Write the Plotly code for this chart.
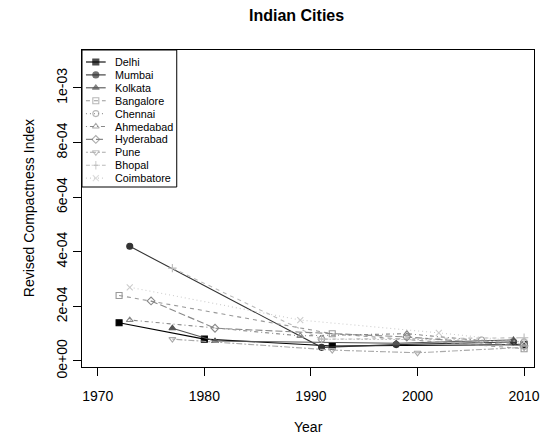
import plotly.graph_objects as go

cities = ["Delhi", "Mumbai", "Kolkata", "Bangalore", "Chennai",
          "Ahmedabad", "Hyderabad", "Pune", "Bhopal", "Coimbatore"]

years = {
    "Delhi":      [1972, 1980, 1992, 2010],
    "Mumbai":     [1973, 1991, 1998, 2009],
    "Kolkata":    [1977, 1981, 1998, 2009],
    "Bangalore":  [1972, 1992, 2010],
    "Chennai":    [1991, 2006, 2010],
    "Ahmedabad":  [1973, 1989, 1999, 2010],
    "Hyderabad":  [1975, 1981, 1999, 2010],
    "Pune":       [1977, 1992, 2000, 2010],
    "Bhopal":     [1977, 1991, 2010],
    "Coimbatore": [1973, 1989, 2002, 2010],
}
values = {
    "Delhi":      [1.40e-4, 0.80e-4, 0.55e-4, 0.60e-4],
    "Mumbai":     [4.20e-4, 0.50e-4, 0.60e-4, 0.70e-4],
    "Kolkata":    [1.20e-4, 0.73e-4, 0.65e-4, 0.77e-4],
    "Bangalore":  [2.40e-4, 1.00e-4, 0.45e-4],
    "Chennai":    [0.80e-4, 0.77e-4, 0.70e-4],
    "Ahmedabad":  [1.50e-4, 0.92e-4, 1.00e-4, 0.60e-4],
    "Hyderabad":  [2.20e-4, 1.20e-4, 0.88e-4, 0.55e-4],
    "Pune":       [0.80e-4, 0.40e-4, 0.30e-4, 0.50e-4],
    "Bhopal":     [3.40e-4, 0.80e-4, 0.85e-4],
    "Coimbatore": [2.70e-4, 1.50e-4, 1.03e-4, 0.70e-4],
}

x_ticks = [1970, 1980, 1990, 2000, 2010]
y_ticks = [0, 2e-4, 4e-4, 6e-4, 8e-4, 1e-3]
y_tick_labels = ["0e+00", "2e-04", "4e-04", "6e-04", "8e-04", "1e-03"]

colors = ["#000000", "#333333", "#555555", "#999999", "#999999",
          "#888888", "#888888", "#aaaaaa", "#bbbbbb", "#cccccc"]
symbols = ["square", "circle", "triangle-up", "square-open", "circle-open",
           "triangle-up-open", "diamond-open", "triangle-down-open",
           "cross-thin-open", "x-thin-open"]
dashes = ["solid", "solid", "solid", "4px,4px", "1px,3px", "1px,3px,4px,3px",
          "7px,3px", "2px,2px,6px,2px", "4px,4px", "1px,3px"]

FONT = "Liberation Sans, Arial, sans-serif"

fig = go.Figure()
for i, c in enumerate(cities):
    fig.add_trace(go.Scatter(
        x=years[c], y=values[c], mode="lines+markers", name=c,
        line=dict(color=colors[i], width=1.1, dash=dashes[i]),
        marker=dict(symbol=symbols[i], size=6, color=colors[i],
                    line=dict(color=colors[i], width=1.1)),
        showlegend=False))

# manual R-style legend on an overlay axis measured in pixels
row0, step = 62, 12.9
for i, c in enumerate(cities):
    yy = row0 + step * i
    fig.add_trace(go.Scatter(
        x=[86, 96, 106], y=[yy, yy, yy], mode="lines+markers",
        xaxis="x2", yaxis="y2", showlegend=False, hoverinfo="skip",
        line=dict(color=colors[i], width=1.1, dash=dashes[i]),
        marker=dict(symbol=symbols[i], size=[0, 6, 0], color=colors[i],
                    line=dict(color=colors[i], width=1.1))))
    fig.add_annotation(x=113, y=yy, xref="x2", yref="y2", text=c,
                       showarrow=False, xanchor="left", yanchor="middle",
                       font=dict(family=FONT, size=10.8, color="#000"))

fig.add_shape(type="rect", xref="x2", yref="y2", x0=82, x1=178, y0=50, y1=187,
              line=dict(color="#000", width=1))

W, H = 547, 444
L, R, T, B = 82, 540, 50, 367

fig.update_layout(
    width=W, height=H,
    margin=dict(l=L, r=W - R, t=T, b=H - B),
    paper_bgcolor="white", plot_bgcolor="white",
    font=dict(family=FONT, size=14, color="#000"),
    xaxis=dict(range=[1968.52, 2010.93], tickvals=x_ticks,
               ticks="outside", ticklen=8, tickcolor="#000",
               ticklabelstandoff=8,
               showline=True, linecolor="#000", mirror=True, linewidth=1,
               showgrid=False, zeroline=False,
               tickfont=dict(size=14)),
    yaxis=dict(range=[-2.2e-5, 1.139e-3], tickvals=y_ticks,
               ticktext=y_tick_labels, tickangle=-90,
               ticks="outside", ticklen=8, tickcolor="#000",
               showline=True, linecolor="#000", mirror=True, linewidth=1,
               showgrid=False, zeroline=False,
               tickfont=dict(size=14)),
    xaxis2=dict(overlaying="x", range=[L, R], visible=False, fixedrange=True),
    yaxis2=dict(overlaying="y", range=[B, T], visible=False, fixedrange=True),
)

fig.add_annotation(text="<b>Indian Cities</b>", xref="paper", yref="paper",
                   x=(299 - L) / (R - L), y=1 + (T - 15) / (B - T),
                   showarrow=False, xanchor="center", yanchor="middle",
                   font=dict(family=FONT, size=16, color="#000"))
fig.add_annotation(text="Year", xref="paper", yref="paper",
                   x=(311 - L) / (R - L), y=-(427 - B) / (B - T),
                   showarrow=False, xanchor="center", yanchor="middle",
                   font=dict(family=FONT, size=14, color="#000"))
fig.add_annotation(text="Revised Compactness Index", xref="paper", yref="paper",
                   x=-(L - 28) / (R - L), y=0.5, textangle=-90,
                   showarrow=False, xanchor="center", yanchor="middle",
                   font=dict(family=FONT, size=14, color="#000"))

fig.write_html("out.html")
